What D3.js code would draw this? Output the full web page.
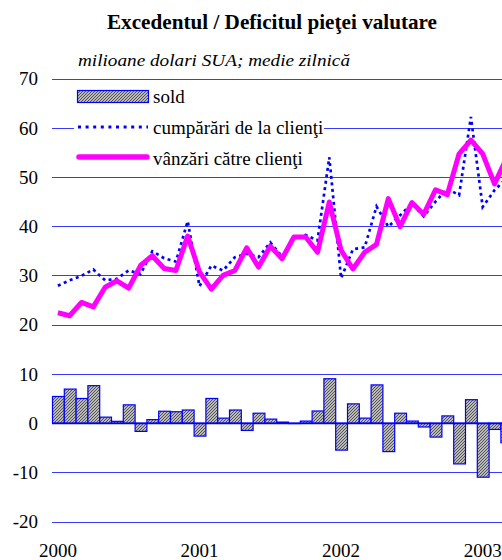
<!DOCTYPE html>
<html>
<head>
<meta charset="utf-8">
<script src="https://cdn.jsdelivr.net/npm/d3@7"></script>
<style>
  html, body { margin: 0; padding: 0; background: #fff; }
  svg { display: block; }
</style>
</head>
<body>
<div id="grafic"></div>
<script>
// excedent / deficit piata valutara, valori lunare
var luni = d3.range(39); // ian 2000 .. mar 2003
var ani = ["2000", "2001", "2002", "2003"];
var aniIndex = [0, 12, 24, 36];
var valoriY = [-20, -10, 0, 10, 20, 30, 40, 50, 60, 70];

var sold = [5.4, 6.9, 5.0, 7.6, 1.2, 0.35, 3.7, -1.7, 0.7, 2.4, 2.3, 2.65,
  -2.65, 5.0, 1.0, 2.65, -1.5, 2.0, 0.8, 0.2, -0.1, 0.4, 2.45, 9.0,
  -5.5, 3.9, 1.0, 7.75, -5.8, 2.0, 0.4, -0.8, -2.85, 1.45, -8.3, 4.75,
  -11.0, -1.3, -4.0];

var cumparari = [27.9, 29.0, 29.9, 31.2, 29.0, 29.3, 31.0, 30.3, 34.9, 33.5, 32.8, 41.0,
  27.8, 32.0, 31.0, 33.7, 34.4, 33.7, 36.7, 33.8, 37.7, 38.2, 37.1, 54.0,
  29.4, 35.3, 35.7, 44.0, 39.9, 42.2, 44.6, 42.0, 45.0, 47.6, 46.3, 62.2,
  43.9, 47.3, 49.7];

var vanzari = [22.4, 21.8, 24.5, 23.6, 27.6, 28.9, 27.4, 32.0, 34.0, 31.4, 31.0, 38.0,
  30.7, 27.2, 30.0, 31.0, 35.6, 31.7, 35.9, 33.4, 37.8, 37.8, 34.7, 44.9,
  35.1, 31.3, 34.7, 36.3, 45.6, 39.9, 44.8, 42.4, 47.4, 46.4, 54.7, 57.5,
  54.7, 48.6, 53.7];

var legenda = ["sold", "cumpărări de la clienţi", "vânzări către clienţi"];

var W = 502, H = 560;
var ALBASTRU = "#0000ff";
var GRILA = "#3a3aff";
var MAGENTA = "#ff00ff";
var FONT = "'Liberation Serif', 'Times New Roman', Tinos, 'DejaVu Serif', serif";

var svg = d3.select("#grafic").append("svg").attr("width", W).attr("height", H)
  .attr("font-family", FONT).style("font-family", FONT);

// hasura pentru bare
var pat = svg.append("defs").append("pattern")
  .attr("id", "hasura").attr("patternUnits", "userSpaceOnUse")
  .attr("width", 3).attr("height", 3);
pat.append("rect").attr("width", 3).attr("height", 3).attr("fill", "#e6e6e6");
pat.append("path").attr("d", "M-1,1 l2,-2 M0,3 l3,-3 M2,4 l2,-2")
  .attr("stroke", "#4a4a4a").attr("stroke-width", 1.1);

var x = d3.scaleBand().domain(d3.range(40)).range([52, 52 + 40 * 11.8]).padding(0);
var y = d3.scaleLinear().domain([-20, 70]).range([521.5, 78.5]);
var cx = function (i) { return x(i) + x.bandwidth() / 2; };

// el ancho del texto se fija al del original porque no hay fuente serif
svg.append("text").attr("x", 107).attr("y", 29)
  .attr("font-weight", "bold").attr("font-size", 21)
  .attr("textLength", 330).attr("lengthAdjust", "spacingAndGlyphs")
  .text("Excedentul / Deficitul pieţei valutare");

svg.append("text").attr("x", 78).attr("y", 66).attr("font-style", "italic")
  .attr("font-size", 17.5)
  .attr("textLength", 272).attr("lengthAdjust", "spacingAndGlyphs")
  .text("milioane dolari SUA; medie zilnică");

// grila orizontala
svg.append("g").selectAll("line").data(valoriY).join("line")
  .attr("x1", 52).attr("x2", W)
  .attr("y1", function (d) { return Math.round(y(d)) + 0.5; })
  .attr("y2", function (d) { return Math.round(y(d)) + 0.5; })
  .attr("stroke", function (d) { return d === 0 ? ALBASTRU : GRILA; })
  .attr("stroke-width", 1);

svg.append("g").selectAll("text").data(valoriY).join("text")
  .attr("x", 38).attr("y", function (d) { return y(d); })
  .attr("dy", "0.36em").attr("text-anchor", "end").attr("font-size", 19)
  .text(function (d) { return d; });

svg.append("g").selectAll("text").data(ani).join("text")
  .attr("x", function (d, i) { return cx(aniIndex[i]); }).attr("y", 557)
  .attr("text-anchor", "middle").attr("font-size", 19)
  .text(function (d) { return d; });

// bare sold
svg.append("g").selectAll("rect").data(luni).join("rect")
  .attr("x", function (i) { return x(i) + 0.5; })
  .attr("width", x.bandwidth())
  .attr("y", function (i) { return y(Math.max(0, sold[i])); })
  .attr("height", function (i) { return Math.abs(y(sold[i]) - y(0)); })
  .attr("fill", "url(#hasura)").attr("stroke", ALBASTRU).attr("stroke-width", 1.2);

svg.append("line").attr("x1", 52).attr("x2", W)
  .attr("y1", Math.round(y(0)) + 0.5).attr("y2", Math.round(y(0)) + 0.5)
  .attr("stroke", ALBASTRU).attr("stroke-width", 1.5);

// legenda, cu fundal alb peste grila
var lg = svg.append("g");
lg.append("rect").attr("x", 74).attr("y", 84).attr("width", 250).attr("height", 86).attr("fill", "#fff");
lg.append("rect").attr("x", 77.5).attr("y", 90.5).attr("width", 71).attr("height", 12)
  .attr("fill", "url(#hasura)").attr("stroke", ALBASTRU).attr("stroke-width", 1.2);
lg.append("line").attr("x1", 78).attr("x2", 148).attr("y1", 127).attr("y2", 127)
  .attr("stroke", ALBASTRU).attr("stroke-width", 3).attr("stroke-dasharray", "3,4.6");
lg.append("line").attr("x1", 79).attr("x2", 147).attr("y1", 157).attr("y2", 157)
  .attr("stroke", MAGENTA).attr("stroke-width", 5.5).attr("stroke-linecap", "round");
lg.selectAll("text").data(legenda).join("text")
  .attr("x", 153).attr("y", function (d, i) { return [103, 134, 165][i]; })
  .attr("font-size", 19).text(function (d) { return d; });

var linie = d3.line().x(function (d, i) { return cx(i); }).y(function (d) { return y(d); });

svg.append("path").datum(cumparari).attr("d", linie)
  .attr("fill", "none").attr("stroke", ALBASTRU).attr("stroke-width", 2.7)
  .attr("stroke-dasharray", "3,3.5");

svg.append("path").datum(vanzari).attr("d", linie)
  .attr("fill", "none").attr("stroke", MAGENTA).attr("stroke-width", 5)
  .attr("stroke-linejoin", "round");
</script>
</body>
</html>
